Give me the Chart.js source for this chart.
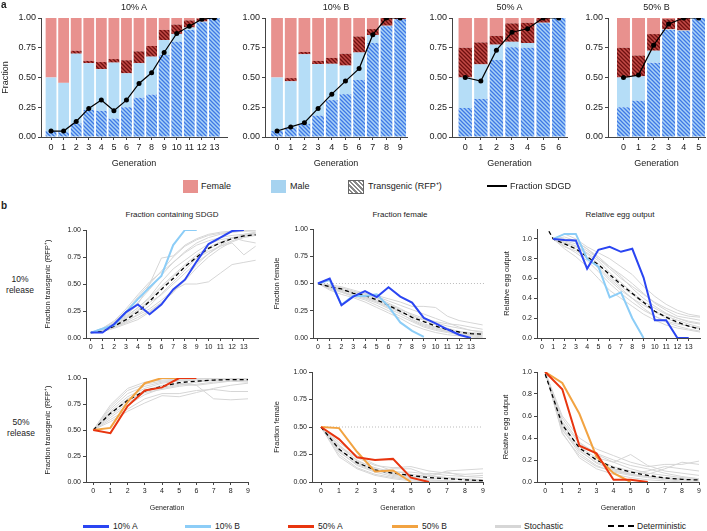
<!DOCTYPE html>
<html>
<head>
<meta charset="utf-8">
<script src="https://cdn.jsdelivr.net/npm/chart.js@4.4.1/dist/chart.umd.min.js"></script>
<style>
  body { margin: 0; width: 707px; height: 531px; background: #fff; position: relative; overflow: hidden;
         font-family: "Liberation Sans", Arial, sans-serif; color: #222; }
  .t { position: absolute; white-space: nowrap; line-height: 1; }
  .sw { position: absolute; }
</style>
</head>
<body>
<script>
/* ─────────────────── datos: panel a ──────────────── */
const gens10A = [0, 1, 2, 3, 4, 5, 6, 7, 8, 9, 10, 11, 12, 13];
const male10A      = [0.50, 0.455, 0.70, 0.62, 0.57, 0.625, 0.535, 0.62, 0.675, 0.815, 0.866, 0.92, 0.97, 1.0];
const transMale10A = [0.05, 0.04, 0.115, 0.227, 0.22, 0.155, 0.25, 0.33, 0.356, 0.69, 0.80, 0.90, 0.965, 1.0];
const femTrans10A  = [0.50, 0.455, 0.725, 0.64, 0.63, 0.655, 0.645, 0.72, 0.765, 0.90, 0.945, 0.98, 0.995, 1.0];
const sdgd10A      = [0.05, 0.05, 0.13, 0.24, 0.31, 0.22, 0.31, 0.45, 0.54, 0.71, 0.87, 0.93, 0.99, 1.0];

const gens10B = [0, 1, 2, 3, 4, 5, 6, 7, 8, 9];
const male10B      = [0.50, 0.468, 0.695, 0.613, 0.615, 0.60, 0.71, 0.857, 0.935, 0.99];
const transMale10B = [0.05, 0.08, 0.11, 0.18, 0.31, 0.36, 0.48, 0.79, 0.93, 0.99];
const femTrans10B  = [0.50, 0.495, 0.715, 0.64, 0.665, 0.70, 0.845, 0.907, 1.0, 1.0];
const sdgd10B      = [0.05, 0.085, 0.12, 0.24, 0.36, 0.47, 0.575, 0.86, 1.0, 1.0];

const gens50A = [0, 1, 2, 3, 4, 5, 6];
const male50A      = [0.50, 0.61, 0.776, 0.80, 0.79, 0.96, 1.0];
const transMale50A = [0.244, 0.32, 0.647, 0.755, 0.75, 0.955, 1.0];
const femTrans50A  = [0.75, 0.795, 0.85, 0.955, 0.96, 1.0, 1.0];
const sdgd50A      = [0.50, 0.47, 0.73, 0.88, 0.91, 1.0, 1.0];

const gens50B = [0, 1, 2, 3, 4, 5];
const male50B      = [0.50, 0.51, 0.725, 0.905, 0.895, 1.0];
const transMale50B = [0.25, 0.305, 0.625, 0.90, 0.89, 1.0];
const femTrans50B  = [0.75, 0.685, 0.865, 0.99, 1.0, 1.0];
const sdgd50B      = [0.50, 0.52, 0.77, 0.95, 1.0, 1.0];

/* ─────────────────── datos: panel b ──────────────── */
const gensLong  = [0, 1, 2, 3, 4, 5, 6, 7, 8, 9, 10, 11, 12, 13, 14];
const gensShort = [0, 1, 2, 3, 4, 5, 6, 7, 8, 9];
const gensEgg10 = [1, 2, 3, 4, 5, 6, 7, 8, 9, 10, 11, 12, 13, 14];
const ticks13 = [0, 1, 2, 3, 4, 5, 6, 7, 8, 9, 10, 11, 12, 13];
const ticks9  = [0, 1, 2, 3, 4, 5, 6, 7, 8, 9];
const ticksFrac = [0, 0.25, 0.5, 0.75, 1];
const ticksEgg  = [0, 0.2, 0.4, 0.6, 0.8, 1];

const egg10A = [1.0, 0.99, 0.985, 0.70, 0.89, 0.92, 0.87, 0.90, 0.61, 0.18, 0.18, 0.0, 0.0];   // gen 1..13
const egg10B = [1.0, 1.05, 1.05, 0.80, 0.72, 0.41, 0.46, 0.20, 0.0];                       // gen 1..9
const egg50A = [1.0, 0.843, 0.33, 0.26, 0.02, 0.02, 0.0];
const egg50B = [1.0, 0.90, 0.62, 0.23, 0.08, 0.0];

const det10Trans = [0.05, 0.06, 0.11, 0.17, 0.24, 0.34, 0.45, 0.55, 0.66, 0.75, 0.83, 0.88, 0.92, 0.945, 0.955];
const det10Fem   = [0.5, 0.47, 0.45, 0.41, 0.39, 0.35, 0.30, 0.245, 0.19, 0.15, 0.11, 0.077, 0.055, 0.04, 0.035];
const det10Egg   = [1.2, 1.0, 0.95, 0.90, 0.82, 0.74, 0.64, 0.54, 0.45, 0.36, 0.27, 0.21, 0.16, 0.12, 0.09];
const det50Trans = [0.5, 0.66, 0.785, 0.875, 0.92, 0.955, 0.97, 0.98, 0.985, 0.985];
const det50Fem   = [0.5, 0.30, 0.176, 0.11, 0.08, 0.06, 0.04, 0.03, 0.02, 0.012];
const det50Egg   = [0.98, 0.52, 0.31, 0.20, 0.13, 0.09, 0.06, 0.037, 0.024, 0.018];

// simulaciones estocásticas (leídas a ojo del gráfico)
const stoch10Trans = [
  [0.05, 0.08, 0.14, 0.22, 0.33, 0.45, 0.58, 0.70, 0.80, 0.88, 0.93, 0.96, 0.98, 0.99, 1.0],
  [0.05, 0.07, 0.10, 0.15, 0.22, 0.30, 0.41, 0.52, 0.63, 0.74, 0.82, 0.88, 0.93, 0.95, 0.97],
  [0.05, 0.09, 0.15, 0.25, 0.38, 0.50, 0.62, 0.75, 0.85, 0.91, 0.95, 0.97, 0.98, 0.99, 0.99],
  [0.05, 0.06, 0.09, 0.13, 0.17, 0.24, 0.32, 0.43, 0.53, 0.65, 0.75, 0.83, 0.89, 0.93, 0.95],
  [0.05, 0.07, 0.12, 0.19, 0.28, 0.37, 0.48, 0.58, 0.68, 0.77, 0.84, 0.89, 0.92, 0.94, 0.96],
  [0.05, 0.08, 0.13, 0.21, 0.31, 0.50, 0.74, 0.76, 0.86, 0.92, 0.96, 0.98, 0.99, 1.0, 1.0],
  [0.05, 0.06, 0.11, 0.16, 0.21, 0.27, 0.35, 0.44, 0.50, 0.50, 0.52, 0.60, 0.68, 0.70, 0.72],
  [0.05, 0.07, 0.11, 0.18, 0.26, 0.35, 0.46, 0.57, 0.66, 0.74, 0.80, 0.85, 0.88, 0.77, 0.85],
  [0.05, 0.09, 0.16, 0.27, 0.40, 0.52, 0.61, 0.70, 0.79, 0.86, 0.90, 0.93, 0.95, 0.96, 0.97],
  [0.05, 0.06, 0.10, 0.14, 0.19, 0.25, 0.33, 0.42, 0.55, 0.68, 0.78, 0.85, 0.90, 0.94, 0.96],
  [0.05, 0.08, 0.13, 0.20, 0.28, 0.38, 0.52, 0.64, 0.72, 0.80, 0.87, 0.91, 0.93, 0.90, 0.88],
  [0.05, 0.07, 0.12, 0.18, 0.25, 0.33, 0.40, 0.50, 0.60, 0.70, 0.78, 0.86, 0.92, 0.96, 0.98]
];
const stoch10Fem = [
  [0.5, 0.48, 0.46, 0.43, 0.40, 0.37, 0.32, 0.27, 0.21, 0.16, 0.12, 0.09, 0.06, 0.05, 0.04],
  [0.5, 0.45, 0.42, 0.38, 0.35, 0.30, 0.25, 0.20, 0.15, 0.10, 0.07, 0.05, 0.03, 0.02, 0.01],
  [0.5, 0.47, 0.44, 0.42, 0.41, 0.38, 0.34, 0.30, 0.26, 0.22, 0.18, 0.14, 0.10, 0.07, 0.05],
  [0.5, 0.46, 0.43, 0.39, 0.36, 0.32, 0.27, 0.22, 0.17, 0.12, 0.09, 0.06, 0.04, 0.03, 0.02],
  [0.5, 0.49, 0.47, 0.44, 0.41, 0.39, 0.36, 0.33, 0.29, 0.29, 0.28, 0.20, 0.16, 0.14, 0.12],
  [0.5, 0.44, 0.40, 0.37, 0.33, 0.28, 0.23, 0.18, 0.12, 0.08, 0.05, 0.03, 0.02, 0.01, 0.0],
  [0.5, 0.47, 0.45, 0.40, 0.37, 0.33, 0.28, 0.24, 0.20, 0.17, 0.14, 0.11, 0.09, 0.07, 0.06],
  [0.5, 0.48, 0.44, 0.41, 0.38, 0.34, 0.31, 0.26, 0.22, 0.18, 0.15, 0.13, 0.12, 0.10, 0.08],
  [0.5, 0.46, 0.44, 0.42, 0.39, 0.36, 0.30, 0.23, 0.16, 0.11, 0.08, 0.06, 0.05, 0.04, 0.04],
  [0.5, 0.47, 0.42, 0.39, 0.37, 0.34, 0.29, 0.25, 0.19, 0.13, 0.10, 0.07, 0.05, 0.03, 0.03]
];
const stoch10Egg = [   // gen 1..14
  [1.0, 0.96, 0.92, 0.85, 0.75, 0.62, 0.52, 0.44, 0.35, 0.26, 0.20, 0.15, 0.12, 0.09],
  [1.0, 1.02, 0.98, 0.90, 0.82, 0.72, 0.64, 0.55, 0.45, 0.35, 0.28, 0.22, 0.20, 0.18],
  [1.0, 0.93, 0.86, 0.78, 0.67, 0.55, 0.45, 0.36, 0.28, 0.22, 0.16, 0.12, 0.09, 0.07],
  [1.0, 0.98, 0.95, 0.88, 0.80, 0.72, 0.62, 0.50, 0.40, 0.32, 0.25, 0.20, 0.16, 0.14],
  [1.0, 0.90, 0.82, 0.72, 0.60, 0.48, 0.40, 0.32, 0.24, 0.18, 0.13, 0.10, 0.08, 0.06],
  [1.0, 1.05, 1.0, 0.92, 0.86, 0.80, 0.72, 0.64, 0.52, 0.42, 0.34, 0.28, 0.24, 0.22],
  [1.0, 0.95, 0.90, 0.82, 0.70, 0.58, 0.48, 0.40, 0.33, 0.27, 0.22, 0.18, 0.14, 0.11],
  [1.0, 0.97, 0.93, 0.86, 0.78, 0.66, 0.56, 0.46, 0.37, 0.30, 0.24, 0.20, 0.17, 0.15],
  [1.0, 0.92, 0.88, 0.80, 0.72, 0.60, 0.50, 0.40, 0.30, 0.22, 0.17, 0.14, 0.12, 0.10],
  [1.0, 1.0, 0.97, 0.90, 0.80, 0.70, 0.60, 0.52, 0.44, 0.36, 0.30, 0.25, 0.22, 0.21]
];
const stoch50Trans = [
  [0.5, 0.70, 0.85, 0.92, 0.96, 0.98, 0.99, 1.0, 1.0, 1.0],
  [0.5, 0.62, 0.74, 0.84, 0.90, 0.93, 0.96, 0.98, 0.99, 0.99],
  [0.5, 0.66, 0.80, 0.88, 0.93, 0.95, 0.93, 0.80, 0.79, 0.80],
  [0.5, 0.72, 0.88, 0.94, 0.97, 0.98, 0.99, 0.99, 0.98, 0.97],
  [0.5, 0.60, 0.70, 0.80, 0.85, 0.85, 0.88, 0.89, 0.87, 0.87],
  [0.5, 0.68, 0.82, 0.90, 0.95, 0.97, 0.98, 0.97, 0.99, 1.0],
  [0.5, 0.64, 0.76, 0.86, 0.89, 0.92, 0.94, 0.96, 0.97, 0.98],
  [0.5, 0.58, 0.68, 0.76, 0.83, 0.82, 0.86, 0.90, 0.93, 0.95],
  [0.5, 0.74, 0.90, 0.96, 0.98, 0.99, 1.0, 1.0, 1.0, 1.0],
  [0.5, 0.67, 0.78, 0.87, 0.91, 0.94, 0.93, 0.95, 0.97, 0.96]
];
const stoch50Fem = [
  [0.5, 0.28, 0.15, 0.09, 0.05, 0.03, 0.02, 0.01, 0.0, 0.0],
  [0.5, 0.33, 0.22, 0.15, 0.13, 0.14, 0.10, 0.08, 0.07, 0.08],
  [0.5, 0.25, 0.13, 0.07, 0.04, 0.02, 0.01, 0.01, 0.0, 0.0],
  [0.5, 0.36, 0.24, 0.16, 0.10, 0.07, 0.05, 0.10, 0.11, 0.12],
  [0.5, 0.30, 0.17, 0.11, 0.08, 0.05, 0.03, 0.03, 0.02, 0.01],
  [0.5, 0.27, 0.16, 0.10, 0.12, 0.12, 0.06, 0.04, 0.03, 0.02],
  [0.5, 0.32, 0.20, 0.12, 0.07, 0.04, 0.08, 0.06, 0.05, 0.06],
  [0.5, 0.23, 0.12, 0.06, 0.03, 0.01, 0.0, 0.0, 0.0, 0.0],
  [0.5, 0.34, 0.19, 0.13, 0.09, 0.09, 0.07, 0.09, 0.05, 0.04],
  [0.5, 0.29, 0.18, 0.11, 0.06, 0.04, 0.05, 0.04, 0.02, 0.02]
];
const stoch50Egg = [
  [1.0, 0.55, 0.35, 0.25, 0.18, 0.12, 0.08, 0.06, 0.04, 0.03],
  [1.0, 0.48, 0.26, 0.15, 0.09, 0.06, 0.04, 0.02, 0.01, 0.01],
  [1.0, 0.60, 0.40, 0.30, 0.24, 0.18, 0.14, 0.16, 0.16, 0.19],
  [1.0, 0.45, 0.22, 0.12, 0.07, 0.04, 0.02, 0.01, 0.0, 0.0],
  [1.0, 0.52, 0.32, 0.22, 0.18, 0.25, 0.15, 0.10, 0.08, 0.06],
  [1.0, 0.50, 0.28, 0.18, 0.12, 0.08, 0.10, 0.14, 0.12, 0.10],
  [1.0, 0.58, 0.36, 0.26, 0.20, 0.15, 0.12, 0.08, 0.05, 0.03],
  [1.0, 0.44, 0.24, 0.14, 0.10, 0.07, 0.05, 0.03, 0.02, 0.02],
  [1.0, 0.54, 0.30, 0.20, 0.14, 0.10, 0.07, 0.12, 0.18, 0.16],
  [1.0, 0.47, 0.29, 0.17, 0.11, 0.07, 0.05, 0.04, 0.03, 0.02]
];

/* ─────────────────── estilos ──────────────── */
const FEMALE = '#e8918e';
const MALE   = '#b5ddf7';
const C10A = '#2a45f2', C10B = '#8ccdf7', C50A = '#e8350f', C50B = '#f2a341';
const GREY = '#d6d6d6';
const AXIS = '#444';

Chart.defaults.font.family = '"Liberation Sans", Arial, sans-serif';
Chart.defaults.color = '#222';
Chart.defaults.animation = false;
Chart.defaults.plugins.legend.display = false;
Chart.defaults.plugins.tooltip.enabled = false;

function hatch(bg, fg) {
  const c = document.createElement('canvas');
  c.width = c.height = 4;
  const g = c.getContext('2d');
  g.fillStyle = bg;
  g.fillRect(0, 0, 4, 4);
  g.strokeStyle = fg;
  g.lineWidth = 1.3;
  g.beginPath();
  g.moveTo(-1, -1); g.lineTo(5, 5);
  g.moveTo(-1, 3);  g.lineTo(1, 5);
  g.moveTo(3, -1);  g.lineTo(5, 1);
  g.stroke();
  return g.createPattern(c, 'repeat');
}
const HATCH_BLUE = hatch('#a9d3f6', '#3f78e6');
const HATCH_RED  = hatch('#c24a46', '#6e1010');

/* ─────────────────── helpers ──────────────── */
function addCanvas(left, top, width, height) {
  const cv = document.createElement('canvas');
  cv.width = width;
  cv.height = height;
  cv.style.cssText = `position:absolute;left:${left}px;top:${top}px;width:${width}px;height:${height}px`;
  document.body.appendChild(cv);
  return cv;
}

function label(text, x, y, size, align = 'center', bold = false) {
  const d = document.createElement('div');
  d.className = 't';
  d.textContent = text;
  d.style.left = x + 'px';
  d.style.top = y + 'px';
  d.style.fontSize = size + 'px';
  d.style.transform = `translate(${align === 'left' ? 0 : -50}%, -50%)`;
  if (bold) d.style.fontWeight = 'bold';
  document.body.appendChild(d);
}

function swatch(x, y, w, h, css) {
  const d = document.createElement('div');
  d.className = 'sw';
  d.style.cssText += `left:${x}px;top:${y}px;width:${w}px;height:${h}px;${css}`;
  document.body.appendChild(d);
}

function axisX(min, max, ticks, size, title, xH, tickLen) {
  return {
    type: 'linear', min, max, stacked: true, offset: false,
    afterBuildTicks: ax => { ax.ticks = ticks.map(v => ({ value: v })); },
    afterFit: ax => { ax.height = xH; },
    grid: { drawOnChartArea: false, offset: false, tickLength: tickLen, color: AXIS, lineWidth: 1 },
    border: { color: AXIS, width: 1 },
    ticks: { font: { size }, padding: 2, maxRotation: 0, autoSkip: false, callback: v => v },
    title: title
      ? { display: true, text: title, font: { size }, padding: { top: 0, bottom: 3 } }
      : { display: false }
  };
}

function axisY(max, ticks, digits, size, title, titleSize, yW, stacked) {
  return {
    type: 'linear', min: 0, max, stacked,
    afterBuildTicks: ax => { ax.ticks = ticks.map(v => ({ value: v })); },
    afterFit: ax => { ax.width = yW; },
    grid: { drawOnChartArea: false, tickLength: 3, color: AXIS, lineWidth: 1 },
    border: { color: AXIS, width: 1 },
    ticks: { font: { size }, padding: 2, callback: v => v.toFixed(digits) },
    title: title
      ? { display: true, text: title, font: { size: titleSize }, padding: 0 }
      : { display: false }
  };
}

/* ─────────────────── panel a: barras apiladas ──────────────── */
function barPanel(p) {
  const top = p.t - 8, left = p.l - p.yW;
  const cv = addCanvas(left, top, p.r - p.l + p.yW + 4, p.b - top + 35);
  const pts = arr => p.gens.map((g, i) => ({ x: g, y: arr[i] }));
  const nonTransMale = p.male.map((m, i) => m - p.transMale[i]);
  const transFem     = p.femTrans.map((f, i) => f - p.male[i]);
  const nonTransFem  = p.femTrans.map(f => 1 - f);
  const bar = (arr, bg) => ({
    type: 'bar', data: pts(arr), backgroundColor: bg, borderWidth: 0,
    barPercentage: 0.86, categoryPercentage: 1, order: 1
  });
  new Chart(cv, {
    type: 'bar',
    data: {
      datasets: [
        { type: 'line', data: pts(p.sdgd), borderColor: '#000', borderWidth: 1.2,
          pointRadius: 2.5, pointBackgroundColor: '#000', pointBorderWidth: 0, order: 0 },
        bar(p.transMale, HATCH_BLUE),
        bar(nonTransMale, MALE),
        bar(transFem, HATCH_RED),
        bar(nonTransFem, FEMALE)
      ]
    },
    options: {
      responsive: false,
      layout: { padding: { top: 8, right: 4, left: 0, bottom: 0 } },
      scales: {
        x: axisX(p.xMin, p.xMax, p.gens, 9, 'Generation', 35, 3),
        y: axisY(1, ticksFrac, 2, 9, p.yTitle, 9, p.yW, true)
      }
    }
  });
  label(p.title, (p.l + p.r) / 2, 7, 9);
}

barPanel({ title: '10% A', gens: gens10A, male: male10A, transMale: transMale10A, femTrans: femTrans10A, sdgd: sdgd10A,
           l: 41, r: 227, t: 18, b: 137, xMin: -0.8, xMax: 14.0, yW: 41, yTitle: 'Fraction' });
barPanel({ title: '10% B', gens: gens10B, male: male10B, transMale: transMale10B, femTrans: femTrans10B, sdgd: sdgd10B,
           l: 265, r: 407, t: 18, b: 137, xMin: -0.88, xMax: 9.5, yW: 30 });
barPanel({ title: '50% A', gens: gens50A, male: male50A, transMale: transMale50A, femTrans: femTrans50A, sdgd: sdgd50A,
           l: 452, r: 567, t: 18, b: 137, xMin: -0.85, xMax: 6.53, yW: 30 });
barPanel({ title: '50% B', gens: gens50B, male: male50B, transMale: transMale50B, femTrans: femTrans50B, sdgd: sdgd50B,
           l: 608, r: 705, t: 18, b: 137, xMin: -1.03, xMax: 5.42, yW: 30 });

/* ─────────────────── panel b: líneas ──────────────── */
function linePanel(p) {
  const top = p.t - 8, left = p.l - p.yW;
  const cv = addCanvas(left, top, p.r - p.l + p.yW + 6, p.b - top + p.xH);
  const pts = (xs, ys) => ys.map((y, i) => ({ x: xs[i], y }));
  const datasets = [];
  p.colored.forEach(s => datasets.push({ data: pts(s.xs, s.ys), borderColor: s.color, borderWidth: 2, order: 0 }));
  datasets.push({ data: pts(p.gens, p.det), borderColor: '#000', borderDash: [4, 3], borderWidth: 1.3, order: 1 });
  if (p.half) {
    datasets.push({ data: [{ x: 0, y: 0.5 }, { x: p.xMax, y: 0.5 }], borderColor: '#aaa',
                    borderDash: [1, 2], borderWidth: 0.8, order: 2 });
  }
  p.stoch.forEach(ys => datasets.push({ data: pts(p.stochGens || p.gens, ys), borderColor: GREY, borderWidth: 1, order: 3 }));
  new Chart(cv, {
    type: 'line',
    data: { datasets },
    options: {
      responsive: false,
      elements: { point: { radius: 0 }, line: { tension: 0 } },
      layout: { padding: { top: 8, right: 6, left: 0, bottom: 0 } },
      scales: {
        x: axisX(p.xMin, p.xMax, p.xTicks, 7, p.xTitle, p.xH, 3),
        y: axisY(p.yMax, p.yTicks, p.digits, 7, p.yTitle, 7.5, p.yW, false)
      }
    }
  });
}

const YT_TRANS = 'Fraction transgenic (RFP⁺)';

// fila 10 %
linePanel({ l: 86, r: 258, t: 230, b: 338, yW: 43, xH: 20, xMin: -0.4, xMax: 14.2, xTicks: ticks13,
            yMax: 1, yTicks: ticksFrac, digits: 2, yTitle: YT_TRANS, gens: gensLong, det: det10Trans, stoch: stoch10Trans,
            colored: [{ xs: gens10A, ys: sdgd10A, color: C10A }, { xs: gens10B, ys: sdgd10B, color: C10B }] });
linePanel({ l: 313, r: 485, t: 229, b: 338, yW: 41, xH: 20, xMin: -0.42, xMax: 14.2, xTicks: ticks13,
            yMax: 1, yTicks: ticksFrac, digits: 2, yTitle: 'Fraction female', gens: gensLong, det: det10Fem, stoch: stoch10Fem, half: true,
            colored: [{ xs: gens10A, ys: male10A.map(m => 1 - m), color: C10A }, { xs: gens10B, ys: male10B.map(m => 1 - m), color: C10B }] });
linePanel({ l: 537, r: 700, t: 229, b: 338, yW: 35, xH: 20, xMin: -0.44, xMax: 14.0, xTicks: ticks13,
            yMax: 1.1, yTicks: ticksEgg, digits: 1, yTitle: 'Relative egg output', gens: gensLong, det: det10Egg,
            stoch: stoch10Egg, stochGens: gensEgg10,
            colored: [{ xs: gensEgg10, ys: egg10A, color: C10A }, { xs: gensEgg10, ys: egg10B, color: C10B }] });

// fila 50 %
linePanel({ l: 86, r: 248, t: 378, b: 482, yW: 43, xH: 33, xMin: -0.42, xMax: 9, xTicks: ticks9, xTitle: 'Generation',
            yMax: 1, yTicks: ticksFrac, digits: 2, yTitle: YT_TRANS, gens: gensShort, det: det50Trans, stoch: stoch50Trans,
            colored: [{ xs: gens50A, ys: sdgd50A, color: C50A }, { xs: gens50B, ys: sdgd50B, color: C50B }] });
linePanel({ l: 312, r: 483, t: 372, b: 482, yW: 40, xH: 33, xMin: -0.5, xMax: 9, xTicks: ticks9, xTitle: 'Generation',
            yMax: 1, yTicks: ticksFrac, digits: 2, yTitle: 'Fraction female', gens: gensShort, det: det50Fem, stoch: stoch50Fem, half: true,
            colored: [{ xs: gens50A, ys: male50A.map(m => 1 - m), color: C50A }, { xs: gens50B, ys: male50B.map(m => 1 - m), color: C50B }] });
linePanel({ l: 537, r: 699, t: 372, b: 482, yW: 36, xH: 33, xMin: -0.48, xMax: 9, xTicks: ticks9, xTitle: 'Generation',
            yMax: 1, yTicks: ticksEgg, digits: 1, yTitle: 'Relative egg output', gens: gensShort, det: det50Egg, stoch: stoch50Egg,
            colored: [{ xs: gens50A, ys: egg50A, color: C50A }, { xs: gens50B, ys: egg50B, color: C50B }] });

/* ─────────────────── textos y leyendas ──────────────── */
label('a', 1, 5, 10, 'left', true);
label('b', 1, 206, 10, 'left', true);
label('Fraction containing SDGD', 172, 215, 8);
label('Fraction female', 400, 215, 8);
label('Relative egg output', 620, 215, 8);
label('10%', 20, 279, 8.5);
label('release', 20, 290, 8.5);
label('50%', 21, 422, 8.5);
label('release', 21, 433, 8.5);

// leyenda a
swatch(183, 180, 15, 13, `background:${FEMALE}`);
label('Female', 201, 186, 9, 'left');
swatch(271, 180, 15, 13, 'background:#a6d3f0');
label('Male', 290, 186, 9, 'left');
swatch(348, 180, 14, 12, 'background:repeating-linear-gradient(45deg,#fff 0 1.6px,#888 1.6px 3.2px);border:1px solid #666');
label('Transgenic (RFP⁺)', 368, 186, 9, 'left');
swatch(487, 185, 20, 2, 'background:#000');
label('Fraction SDGD', 510, 186, 9, 'left');

// leyenda b
swatch(83, 525, 26, 2.5, `background:${C10A}`);
label('10% A', 113, 526, 8.5, 'left');
swatch(185, 525, 26, 2.5, `background:${C10B}`);
label('10% B', 215, 526, 8.5, 'left');
swatch(288, 525, 26, 2.5, `background:${C50A}`);
label('50% A', 318, 526, 8.5, 'left');
swatch(392, 525, 26, 2.5, `background:${C50B}`);
label('50% B', 422, 526, 8.5, 'left');
swatch(495, 525, 26, 2.5, `background:${GREY}`);
label('Stochastic', 524, 526, 8.5, 'left');
swatch(608, 525, 26, 0, 'border-top:2px dashed #000');
label('Deterministic', 637, 526, 8.5, 'left');
</script>
</body>
</html>
